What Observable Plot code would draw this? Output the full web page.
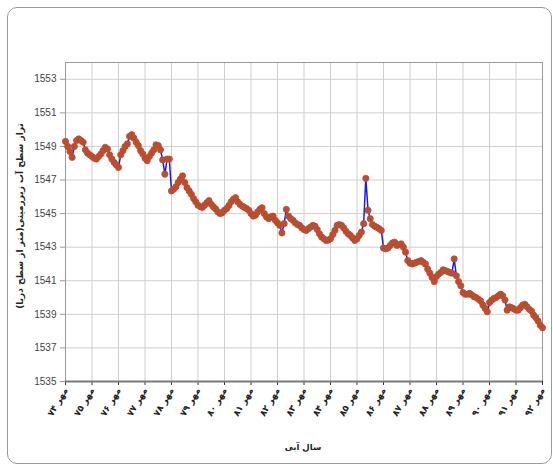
<!DOCTYPE html>
<html>
<head>
<meta charset="utf-8">
<script src="https://cdn.jsdelivr.net/npm/d3@7"></script>
<script src="https://cdn.jsdelivr.net/npm/@observablehq/plot@0.6"></script>
<style>
  html, body { margin: 0; padding: 0; background: #fff; }
  #wrap { position: relative; width: 553px; height: 470px; }
  #border { position: absolute; left: 7px; top: 7px; width: 543px; height: 455px;
            border: 1px solid #9a9a9a; border-radius: 10px; pointer-events: none; }
  #xtitle { position: absolute; left: 203px; width: 200px; top: 440px; text-align: center;
            font: bold 8.5px 'DejaVu Sans', sans-serif; color: #222; line-height: 14px; direction: rtl; }
</style>
</head>
<body>
<div id="wrap"><div id="border"></div><div id="xtitle"></div></div>
<script>
// Monthly groundwater level (m a.s.l.), from Mehr 74 to Mehr 92
const startYear = 74;
const levels = [
  1549.3, 1549.0, 1548.7, 1548.35, 1549.0, 1549.35, 1549.45, 1549.35, 1549.25, 1548.8, 1548.6, 1548.5,
  1548.4, 1548.3, 1548.25, 1548.4, 1548.55, 1548.75, 1548.95, 1548.85, 1548.5, 1548.25, 1548.05, 1547.9,
  1547.75, 1548.5, 1548.75, 1549.0, 1549.15, 1549.6, 1549.7, 1549.5, 1549.25, 1549.05, 1548.75, 1548.55,
  1548.3, 1548.15, 1548.4, 1548.6, 1548.8, 1549.1, 1549.05, 1548.8, 1548.2, 1547.35, 1548.25, 1548.25,
  1546.35, 1546.45, 1546.6, 1546.85, 1547.05, 1547.25, 1546.85, 1546.55, 1546.35, 1546.15, 1545.9, 1545.7,
  1545.5, 1545.42, 1545.37, 1545.5, 1545.65, 1545.77, 1545.55, 1545.4, 1545.28, 1545.1, 1545.0, 1545.05,
  1545.2, 1545.3, 1545.48, 1545.7, 1545.85, 1545.95, 1545.7, 1545.55, 1545.45, 1545.37, 1545.3, 1545.2,
  1545.0, 1544.85, 1544.9, 1545.1, 1545.25, 1545.35, 1545.0, 1544.8, 1544.7, 1544.8, 1544.85, 1544.6,
  1544.45, 1544.3, 1543.85, 1544.4, 1545.25, 1544.85, 1544.7, 1544.6, 1544.45, 1544.35, 1544.3, 1544.15,
  1544.05, 1544.0, 1544.1, 1544.2, 1544.3, 1544.25, 1544.05, 1543.8, 1543.6, 1543.5, 1543.4, 1543.42,
  1543.5, 1543.75, 1544.0, 1544.3, 1544.35, 1544.3, 1544.15, 1543.95, 1543.8, 1543.7, 1543.55, 1543.4,
  1543.5, 1543.7, 1543.9, 1544.4, 1547.1, 1545.2, 1544.7, 1544.35, 1544.25, 1544.18, 1544.1, 1544.0,
  1542.95, 1542.9, 1542.95, 1543.1, 1543.25, 1543.3, 1543.1, 1543.15, 1543.2, 1543.0, 1542.7, 1542.2,
  1542.05, 1542.0, 1542.05, 1542.1, 1542.15, 1542.2, 1542.1, 1542.0, 1541.7, 1541.45, 1541.2, 1540.95,
  1541.25, 1541.4, 1541.5, 1541.65, 1541.6, 1541.55, 1541.5, 1541.45, 1542.3, 1541.3, 1540.95, 1540.7,
  1540.3, 1540.2, 1540.2, 1540.25, 1540.15, 1540.05, 1540.0, 1539.9, 1539.8, 1539.55, 1539.35, 1539.15,
  1539.7, 1539.85, 1539.95, 1540.0, 1540.1, 1540.2, 1540.1, 1539.85, 1539.25, 1539.45, 1539.4, 1539.33,
  1539.25, 1539.25, 1539.4, 1539.55, 1539.6, 1539.45, 1539.3, 1539.2, 1538.95, 1538.8, 1538.6, 1538.35,
  1538.2
];
const yearTicks = [74,75,76,77,78,79,80,81,82,83,84,85,86,87,88,89,90,91,92];
const yearLabels = ["مهر ۷۴","مهر ۷۵","مهر ۷۶","مهر ۷۷","مهر ۷۸","مهر ۷۹","مهر ۸۰","مهر ۸۱","مهر ۸۲","مهر ۸۳",
                    "مهر ۸۴","مهر ۸۵","مهر ۸۶","مهر ۸۷","مهر ۸۸","مهر ۸۹","مهر ۹۰","مهر ۹۱","مهر ۹۲"];
const levelTicks = [1535,1537,1539,1541,1543,1545,1547,1549,1551,1553];
const yTitle = "تراز سطح آب زیرزمینی(متر از سطح دریا)";
const xTitle = "سال آبی";

const data = levels.map((v, i) => ({t: startYear + i / 12, v}));

const chart = Plot.plot({
  width: 553,
  height: 470,
  marginLeft: 65,
  marginRight: 11,
  marginTop: 62,
  marginBottom: 89,
  style: {fontFamily: "'Liberation Sans', Arial, sans-serif", fontSize: "10px", color: "#333", background: "transparent"},
  x: {domain: [74, 92]},
  y: {domain: [1535, 1554]},
  marks: [
    Plot.gridX(yearTicks, {stroke: "#cfcfcf", strokeOpacity: 1}),
    Plot.gridY(levelTicks, {stroke: "#cfcfcf", strokeOpacity: 1}),
    Plot.frame({stroke: "#9a9a9a"}),
    Plot.axisY({ticks: levelTicks, tickFormat: d => String(d), tickSize: 5, tickPadding: 4, label: null, stroke: "#999", fill: "#444", fontSize: 10}),
    Plot.axisX({ticks: yearTicks, tickFormat: d => yearLabels[d - startYear], tickRotate: -60, tickSize: 4, tickPadding: 3,
                label: null, fontFamily: "'DejaVu Sans', sans-serif", fontSize: 9, fontWeight: "bold", fill: "#222"}),
    Plot.ruleY([1535], {stroke: "#7a7a7a", strokeWidth: 2}),
    Plot.line(data, {x: "t", y: "v", stroke: "#1a1ae6", strokeWidth: 1.5}),
    Plot.dot(data, {x: "t", y: "v", r: 3.1, fill: "#c9472b", stroke: "#a0583a", strokeWidth: 0.8}),
    Plot.text([yTitle], {frameAnchor: "left", dx: -45, dy: -6, rotate: -90, textAnchor: "middle", text: d => d,
                         fontFamily: "'DejaVu Sans', sans-serif", fontSize: 9, fontWeight: "bold", fill: "#222"})
  ]
});
const wrap = document.getElementById("wrap");
wrap.insertBefore(chart, wrap.firstChild);
chart.style.position = "absolute";
chart.style.left = "0";
chart.style.top = "0";
document.getElementById("xtitle").textContent = xTitle;
</script>
</body>
</html>
